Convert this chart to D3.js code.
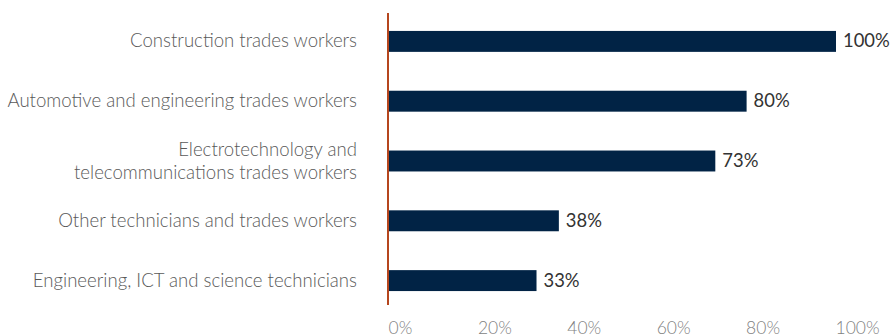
<!DOCTYPE html>
<html>
<head>
<meta charset="utf-8">
<script src="https://cdn.jsdelivr.net/npm/d3@7"></script>
<style>
  html, body { margin: 0; padding: 0; background: #ffffff; }
  svg { display: block; }
  .cat { font-family: Lato, "Open Sans", sans-serif; font-size: 18.6px; font-weight: 300; fill: #595959; }
  .val { font-family: Lato, "Open Sans", sans-serif; font-size: 18.4px; font-weight: 400; fill: #333333; }
  .tick text { font-family: Lato, "Open Sans", sans-serif; font-size: 17.5px; font-weight: 300; fill: #7f7f7f; }
</style>
</head>
<body>
<svg id="chart" width="894" height="335"></svg>
<script>
// Occupations (top to bottom) and their share, in per cent
const categories = [
  ["Construction trades workers"],
  ["Automotive and engineering trades workers"],
  ["Electrotechnology and", "telecommunications trades workers"],
  ["Other technicians and trades workers"],
  ["Engineering, ICT and science technicians"]
];
const values = [100, 80, 73, 38, 33];
const tickValues = [0, 20, 40, 60, 80, 100];

const svg = d3.select("#chart");

const x = d3.scaleLinear().domain([0, 100]).range([389, 836]);
const y = d3.scaleBand()
  .domain(d3.range(categories.length))
  .range([13, 309])
  .paddingInner(0.65)
  .paddingOuter(0.3);

// Bars
svg.append("g").selectAll("rect")
  .data(values)
  .join("rect")
  .attr("x", x(0))
  .attr("y", (d, i) => y(i))
  .attr("width", d => x(d) - x(0))
  .attr("height", y.bandwidth())
  .attr("fill", "#012345");

// Value labels
svg.append("g").selectAll("text")
  .data(values)
  .join("text")
  .attr("class", "val")
  .attr("x", d => x(d) + 7)
  .attr("y", (d, i) => y(i) + y.bandwidth() / 2 + 6)
  .text(d => d + "%");

// Category labels, right-aligned, wrapped lines centred on the bar
const lineGap = 23;
const catG = svg.append("g");
categories.forEach((lines, i) => {
  const cy = y(i) + y.bandwidth() / 2 + 6;
  const t = catG.append("text")
    .attr("class", "cat")
    .attr("text-anchor", "end");
  lines.forEach((ln, j) => {
    t.append("tspan")
      .attr("x", 357)
      .attr("y", cy + (j - (lines.length - 1) / 2) * lineGap)
      .text(ln);
  });
});

// Category axis line
svg.append("line")
  .attr("x1", 388).attr("x2", 388)
  .attr("y1", 13).attr("y2", 305)
  .attr("stroke", "#b5461e")
  .attr("stroke-width", 2);

// Value axis: labels only
const xAxis = d3.axisBottom(x)
  .tickValues(tickValues)
  .tickSize(0)
  .tickPadding(0)
  .tickFormat(d => d + "%");

const axisG = svg.append("g")
  .attr("transform", "translate(0,334)")
  .call(xAxis);
axisG.select(".domain").remove();
axisG.selectAll(".tick text")
  .attr("y", 0)
  .attr("dy", 0)
  .attr("dx", -1)
  .attr("text-anchor", "start");
</script>
</body>
</html>
